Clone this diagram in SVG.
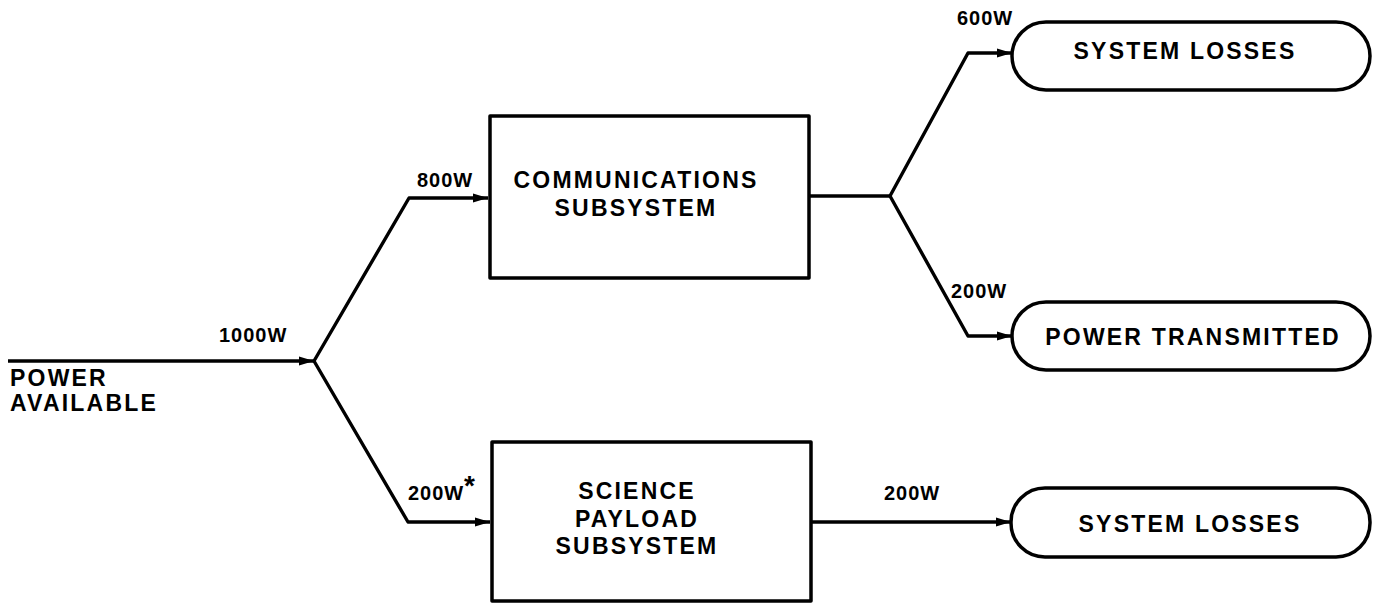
<svg xmlns="http://www.w3.org/2000/svg" width="1380" height="605" viewBox="0 0 1380 605">
<style>
.box{fill:#fff;stroke:#000;stroke-width:3.5;stroke-linejoin:round}
.ln{fill:none;stroke:#000;stroke-width:3.4;stroke-linejoin:round}
.t{font-family:"Liberation Sans",Arial,sans-serif;font-weight:bold;font-size:23px;letter-spacing:2.2px;fill:#000}
.m{text-anchor:middle}
.lbl{font-family:"Liberation Sans",Arial,sans-serif;font-weight:bold;font-size:20px;letter-spacing:1px;fill:#000}
</style>
<defs>
<marker id="ah" markerUnits="userSpaceOnUse" markerWidth="18" markerHeight="14" refX="15" refY="7" orient="auto">
<path d="M0,2.5 L15,7 L0,11.5 Z" fill="#000"/>
</marker>
</defs>
<rect width="1380" height="605" fill="#fff"/>
<g id="connectors">
<path class="ln" d="M8,361 L314,361" marker-end="url(#ah)"/>
<path class="ln" d="M314,361 L409,198 L488,198" marker-end="url(#ah)"/>
<path class="ln" d="M314,361 L408,522 L490,522" marker-end="url(#ah)"/>
<path class="ln" d="M809,196 L890,196"/>
<path class="ln" d="M890,196 L968,53 L1012,53" marker-end="url(#ah)"/>
<path class="ln" d="M890,196 L968,336 L1012,336" marker-end="url(#ah)"/>
<path class="ln" d="M811,522 L1011,522" marker-end="url(#ah)"/>
</g>
<g id="labels">
<text class="lbl" x="219" y="342">1000W</text>
<text class="lbl" x="417" y="187">800W</text>
<text class="lbl" x="408" y="500">200W</text>
<text class="lbl" x="464" y="495" style="font-size:28px">*</text>
<text class="lbl" x="957" y="25">600W</text>
<text class="lbl" x="951" y="298">200W</text>
<text class="lbl" x="884" y="500">200W</text>
</g>
<g id="power-available">
<text class="t" x="10" y="386">POWER</text>
<text class="t" x="10" y="411">AVAILABLE</text>
</g>
<g id="communications">
<rect class="box" x="490" y="116" width="319" height="162"/>
<text class="t m" x="636" y="188">COMMUNICATIONS</text>
<text class="t m" x="636" y="216">SUBSYSTEM</text>
</g>
<g id="science">
<rect class="box" x="492" y="442" width="319" height="159"/>
<text class="t m" x="637" y="499">SCIENCE</text>
<text class="t m" x="637" y="527">PAYLOAD</text>
<text class="t m" x="637" y="554">SUBSYSTEM</text>
</g>
<g id="losses-top">
<rect class="box" x="1012" y="22" width="358" height="68" rx="34" ry="34"/>
<text class="t m" x="1185" y="59">SYSTEM LOSSES</text>
</g>
<g id="transmitted">
<rect class="box" x="1012" y="302" width="358" height="68" rx="34" ry="34"/>
<text class="t m" x="1193" y="345">POWER TRANSMITTED</text>
</g>
<g id="losses-bottom">
<rect class="box" x="1011" y="488" width="359" height="69" rx="34" ry="34"/>
<text class="t m" x="1190" y="532">SYSTEM LOSSES</text>
</g>
</svg>
